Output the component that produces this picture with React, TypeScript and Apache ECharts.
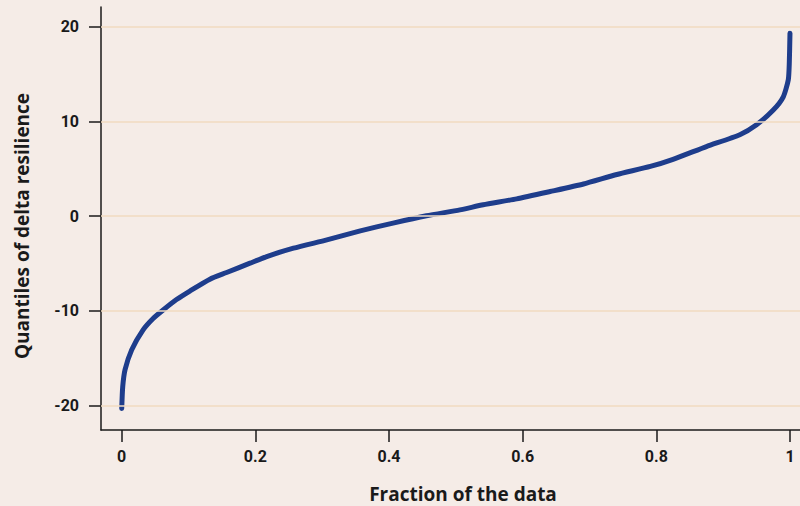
import React, { useEffect, useRef } from "react";
import * as echarts from "echarts";

const fractions = [
  0.0, 0.0015, 0.005, 0.015, 0.032, 0.047, 0.062, 0.082, 0.102, 0.132, 0.157,
  0.192, 0.217, 0.257, 0.307, 0.357, 0.406, 0.456, 0.506, 0.541, 0.591, 0.641,
  0.691, 0.741, 0.791, 0.825, 0.875, 0.925, 0.95, 0.975, 0.99, 0.9975, 0.999, 1.0,
];
const quantiles = [
  -20.3, -18.0, -16.2, -14.1, -12.0, -10.8, -9.9, -8.8, -7.9, -6.65, -5.95,
  -4.96, -4.26, -3.38, -2.5, -1.55, -0.73, 0.04, 0.67, 1.2, 1.83, 2.6, 3.4,
  4.4, 5.25, 6.0, 7.35, 8.6, 9.65, 11.2, 12.6, 14.4, 16.2, 19.3,
];
const xTicks = [0, 0.2, 0.4, 0.6, 0.8, 1];
const yTicks = [-20, -10, 0, 10, 20];
const xTitle = "Fraction of the data";
const yTitle = "Quantiles of delta resilience";

const FONT = "Roboto";
const TITLE_FONT = "'Open Sans'";

export default function App() {
  const ref = useRef<HTMLDivElement>(null);
  useEffect(() => {
    document.body.style.margin = "0";
    if (!ref.current) return;
    const chart = echarts.init(ref.current, null, { renderer: "svg" });
    const axisText = { color: "#1a1a1a", fontFamily: FONT, fontWeight: "bold" as const, fontSize: 16 };
    chart.setOption({
      animation: false,
      backgroundColor: "#f5ece7",
      grid: { left: 101, right: 0, top: 7, bottom: 76 },
      xAxis: {
        type: "value",
        min: -0.031,
        max: 1.015,
        axisLine: { show: true, onZero: false, lineStyle: { color: "#1a1a1a", width: 1.5 } },
        axisTick: { show: true, length: 12, customValues: xTicks, lineStyle: { color: "#1a1a1a", width: 1.5 } },
        axisLabel: {
          ...axisText,
          margin: 18,
          customValues: xTicks,
          formatter: (v: number) => String(Math.round(v * 10) / 10),
        },
        splitLine: { show: false },
      },
      yAxis: {
        type: "value",
        min: -22.57,
        max: 22.08,
        axisLine: { show: true, onZero: false, lineStyle: { color: "#1a1a1a", width: 1.5 } },
        axisTick: { show: true, length: 12, customValues: yTicks, lineStyle: { color: "#1a1a1a", width: 1.5 } },
        axisLabel: { ...axisText, margin: 22, customValues: yTicks },
        splitLine: { show: false },
      },
      graphic: [
        {
          type: "text",
          x: 463,
          y: 494,
          style: {
            text: xTitle,
            fill: "#1a1a1a",
            font: `bold 19px ${TITLE_FONT}`,
            textAlign: "center",
            textVerticalAlign: "middle",
          },
        },
        {
          type: "text",
          x: 22,
          y: 226,
          rotation: Math.PI / 2,
          style: {
            text: yTitle,
            fill: "#1a1a1a",
            font: `bold 19px ${TITLE_FONT}`,
            textAlign: "center",
            textVerticalAlign: "middle",
          },
        },
      ],
      series: [
        {
          type: "line",
          z: 1,
          data: [],
          silent: true,
          markLine: {
            silent: true,
            symbol: "none",
            label: { show: false },
            lineStyle: { color: "#f0dbc0", width: 1.5, type: "solid" },
            data: yTicks.map((v) => ({ yAxis: v })),
          },
        },
        {
          type: "line",
          z: 3,
          data: fractions.map((f, i) => [f, quantiles[i]]),
          showSymbol: false,
          smooth: 0.2,
          lineStyle: { color: "#1e3d8c", width: 5, cap: "round", join: "round" },
        },
      ],
    });
    return () => chart.dispose();
  }, []);
  return <div ref={ref} style={{ width: 800, height: 506 }} />;
}
